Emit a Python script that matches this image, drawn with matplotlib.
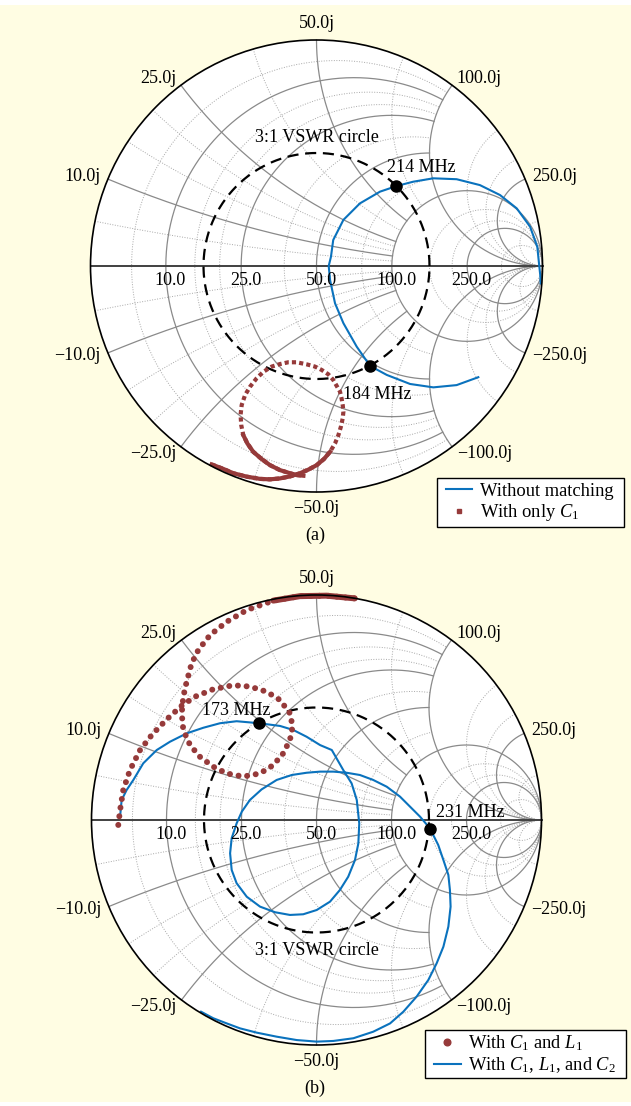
import numpy as np
import matplotlib.pyplot as plt
from matplotlib.lines import Line2D
from matplotlib.patches import Circle, Rectangle

plt.rcParams['font.family'] = ['Liberation Serif', 'DejaVu Serif']
plt.rcParams['mathtext.fontset'] = 'custom'
plt.rcParams['mathtext.rm'] = 'Liberation Serif'
plt.rcParams['mathtext.it'] = 'Liberation Serif:italic'
plt.rcParams['font.size'] = 13

# Smith grid values, normalised to Z0 (labels are in ohms)
Z0 = 50.0
major_vals = [0.2, 0.5, 1.0, 2.0, 5.0]
minor_vals = [0.1, 0.3, 0.4, 0.75, 1.5, 3.0, 4.0, 10.0]
vswr = 3.0

# (a) reflection coefficients
nomatch_re = [0.716, 0.620, 0.517, 0.414, 0.311, 0.237, 0.178, 0.119, 0.082, 0.060,
              0.054, 0.064, 0.074, 0.119, 0.192, 0.281, 0.355, 0.428, 0.517, 0.620,
              0.723, 0.812, 0.886, 0.945, 0.977, 0.986, 0.990, 0.992]
nomatch_im = [-0.492, -0.527, -0.537, -0.522, -0.482, -0.442, -0.357, -0.253, -0.165, -0.062,
              0.000, 0.041, 0.115, 0.204, 0.277, 0.329, 0.354, 0.373, 0.388, 0.384,
              0.358, 0.314, 0.255, 0.174, 0.085, -0.003, -0.040, -0.077]

onlyc1_re = [-0.464, -0.412, -0.368, -0.309, -0.250, -0.206, -0.162, -0.117, -0.073, -0.036,
             0.001, 0.033, 0.060, 0.082, 0.097, 0.108, 0.116, 0.119, 0.116, 0.111,
             0.104, 0.089, 0.074, 0.052, 0.023, -0.007, -0.044, -0.088, -0.125, -0.162,
             -0.198, -0.235, -0.265, -0.294, -0.316, -0.331, -0.336, -0.333, -0.324, -0.306,
             -0.280, -0.243, -0.206, -0.162, -0.117, -0.088, -0.058]
onlyc1_im = [-0.878, -0.898, -0.917, -0.932, -0.942, -0.944, -0.940, -0.931, -0.917, -0.901,
             -0.881, -0.854, -0.822, -0.785, -0.748, -0.711, -0.674, -0.645, -0.615, -0.586,
             -0.556, -0.530, -0.504, -0.479, -0.460, -0.445, -0.435, -0.426, -0.426, -0.434,
             -0.445, -0.468, -0.497, -0.534, -0.571, -0.615, -0.659, -0.704, -0.748, -0.785,
             -0.822, -0.854, -0.881, -0.903, -0.917, -0.925, -0.928]

a_marker_text = ['214 MHz', '184 MHz']
a_marker_re = [0.352, 0.237]
a_marker_im = [0.354, -0.442]

# (b)
c1l1_re = [-0.881, -0.873, -0.859, -0.829, -0.784, -0.732, -0.666, -0.599, -0.540, -0.459,
           -0.370, -0.296, -0.221, -0.162, -0.118, -0.106, -0.118, -0.148, -0.192, -0.251,
           -0.325, -0.399, -0.459, -0.518, -0.562, -0.592, -0.599, -0.592, -0.577, -0.555,
           -0.525, -0.473, -0.399, -0.310, -0.192, -0.073, 0.045, 0.170]
c1l1_im = [-0.022, 0.044, 0.133, 0.222, 0.311, 0.378, 0.447, 0.508, 0.548, 0.581,
           0.599, 0.593, 0.570, 0.533, 0.474, 0.415, 0.356, 0.296, 0.244, 0.207,
           0.193, 0.207, 0.237, 0.281, 0.333, 0.400, 0.474, 0.548, 0.615, 0.696,
           0.756, 0.822, 0.881, 0.933, 0.975, 0.995, 0.997, 0.985]

c1l1c2_re = [-0.873, -0.866, -0.844, -0.814, -0.770, -0.710, -0.651, -0.577, -0.503, -0.429,
             -0.355, -0.254, -0.162, -0.103, -0.044, 0.016, 0.068, 0.119, 0.156, 0.179,
             0.190, 0.186, 0.171, 0.141, 0.104, 0.060, 0.001, -0.059, -0.118, -0.184,
             -0.251, -0.310, -0.355, -0.377, -0.384, -0.377, -0.355, -0.332, -0.296, -0.244,
             -0.177, -0.110, -0.044, 0.016, 0.075, 0.134, 0.193, 0.252, 0.312, 0.371,
             0.416, 0.460, 0.504, 0.541, 0.564, 0.586, 0.593, 0.596, 0.586, 0.564,
             0.534, 0.497, 0.445, 0.386, 0.327, 0.252, 0.164, 0.075, 0.001, -0.088,
             -0.177, -0.266, -0.340, -0.399, -0.459, -0.513]
c1l1c2_im = [0.015, 0.089, 0.133, 0.178, 0.252, 0.311, 0.348, 0.385, 0.410, 0.430,
             0.439, 0.430, 0.418, 0.400, 0.370, 0.333, 0.311, 0.222, 0.163, 0.089,
             -0.015, -0.104, -0.178, -0.252, -0.311, -0.363, -0.400, -0.419, -0.422, -0.410,
             -0.385, -0.341, -0.281, -0.222, -0.148, -0.081, -0.015, 0.037, 0.089, 0.136,
             0.178, 0.200, 0.210, 0.215, 0.215, 0.210, 0.200, 0.178, 0.148, 0.104,
             0.059, 0.015, -0.037, -0.111, -0.178, -0.244, -0.311, -0.385, -0.474, -0.563,
             -0.637, -0.711, -0.785, -0.852, -0.904, -0.941, -0.970, -0.982, -0.985, -0.978,
             -0.963, -0.945, -0.926, -0.904, -0.881, -0.852]

b_marker_text = ['173 MHz', '231 MHz']
b_marker_re = [-0.254, 0.503]
b_marker_im = [0.430, -0.040]

BG = '#fffde3'
BLUE = '#0a72bd'
RED = '#963a3a'

W, H = 631, 1106
fig = plt.figure(figsize=(W / 100, H / 100), dpi=100, facecolor='white')
fig.patches.append(Rectangle((0, 4 / H), 1, 1 - 9 / H, transform=fig.transFigure,
                             fc=BG, ec='none', zorder=-10))


def px(x, y):
    # pixel position (from top left) -> figure fraction
    return x / W, 1 - y / H


def gam(z):
    return (z - 1) / (z + 1)


def chart_axes(cx, cy, R):
    half = 1.15 * R
    ax = fig.add_axes([(cx - half) / W, (H - cy - half) / H, 2 * half / W, 2 * half / H])
    ax.set_xlim(-1.15, 1.15)
    ax.set_ylim(-1.15, 1.15)
    ax.set_aspect('equal')
    ax.axis('off')
    return ax


def smith_grid(ax):
    ax.add_patch(Circle((0, 0), 1, fc='white', ec='none', zorder=0))
    minor_style = dict(color='#a8a8a8', lw=0.7, ls=(0, (1, 1.6)))
    major_style = dict(color='#8a8a8a', lw=0.9, ls='-')
    for vals, style in ((minor_vals, minor_style), (major_vals, major_style)):
        for v in vals:
            # lines below 2 stop at the r=2 / x=2 lines, the rest run to the edge
            lim = np.pi / 2 if v >= 2 else np.arctan(2.0)
            t = np.linspace(-lim, lim, 600)
            g = gam(v + 1j * np.tan(t))
            ax.plot(g.real, g.imag, zorder=1, **style)
            t = np.linspace(0, lim, 600)
            for s in (1, -1):
                g = gam(np.tan(t) + 1j * s * v)
                ax.plot(g.real, g.imag, zorder=1, **style)
    ax.plot([-1, 1], [0, 0], color='#404040', lw=1.4, zorder=2)
    ax.add_patch(Circle((0, 0), 1, fc='none', ec='black', lw=1.2, zorder=6))

    for v in major_vals:
        xr = gam(v).real
        ax.text(xr + 0.02, -0.063, f'{v * Z0:.1f}', ha='center', va='center', zorder=7)
        for s in (1, -1):
            g = gam(1j * s * v)
            c, si = g.real, g.imag
            ha = 'left' if c > 0.3 else ('right' if c < -0.3 else 'center')
            va = 'bottom' if si > 0.9 else ('top' if si < -0.9 else 'center')
            lab = f'{v * Z0:.1f}j' if s > 0 else f'\u2212{v * Z0:.1f}j'
            ax.text(1.035 * c, 1.035 * si, lab, ha=ha, va=va)

    rho = (vswr - 1) / (vswr + 1)
    th = np.linspace(0, 2 * np.pi, 400)
    ax.plot(rho * np.cos(th), rho * np.sin(th), color='black', lw=1.6,
            ls=(0, (5, 3)), zorder=3)
    return rho


def boxed_legend(handles, labels, box, anchor):
    x0, y0, x1, y1 = box
    fig.patches.append(Rectangle(px(x0, y1), (x1 - x0) / W, (y1 - y0) / H,
                                 transform=fig.transFigure, fc='white', ec='black',
                                 lw=1.0, zorder=20))
    leg = fig.legend(handles, labels, loc='upper left', bbox_to_anchor=px(*anchor),
                     borderaxespad=0, borderpad=0, frameon=False, fontsize=13.3,
                     handlelength=1.45, handletextpad=0.38, labelspacing=0.13)
    leg.set_zorder(21)
    return leg


# ---- (a) ----
ax1 = chart_axes(316.5, 266, 226)
rho = smith_grid(ax1)
ax1.text(0, rho + 0.07, f'{vswr:.0f}:1 VSWR circle', ha='center', va='center', zorder=7)

ax1.plot(onlyc1_re, onlyc1_im, color=RED, lw=3, ls=(0, (1, 0.75)), zorder=4)
ax1.plot(onlyc1_re[:13], onlyc1_im[:13], color=RED, lw=3, zorder=4)
ax1.plot(onlyc1_re[38:], onlyc1_im[38:], color=RED, lw=3, zorder=4)
ax1.plot(nomatch_re, nomatch_im, color=BLUE, lw=1.5, zorder=5)
ax1.plot(a_marker_re, a_marker_im, 'o', color='black', ms=8, zorder=8)
a_off = [((-6.5, 10.1), 'left'), ((-19.4, -23.8), 'left')]
for txt, x, y, (off, ha) in zip(a_marker_text, a_marker_re, a_marker_im, a_off):
    ax1.annotate(txt, (x, y), xytext=off, textcoords='offset points',
                 ha=ha, va='baseline', zorder=9)

fig.text(*px(315, 535), '(a)', ha='center', va='center')

boxed_legend([Line2D([], [], color=BLUE, lw=1.5),
              Line2D([], [], ls='none', marker='s', ms=3, color=RED)],
             ['Without matching', r'With only $C_1$'],
             (436.7, 478.3, 624.3, 527.3), (445.7, 482.8))

# ---- (b) ----
ax2 = chart_axes(316.5, 820, 225)
rho = smith_grid(ax2)
ax2.text(0, -rho - 0.078, f'{vswr:.0f}:1 VSWR circle', ha='center', va='center', zorder=7)

ax2.plot(c1l1c2_re, c1l1c2_im, color=BLUE, lw=1.5, zorder=4)
ax2.plot(c1l1_re, c1l1_im, color=RED, lw=4.3, ls=(0, (0.01, 1.45)),
         dash_capstyle='round', zorder=5)
ax2.plot(c1l1_re[34:], c1l1_im[34:], color=RED, lw=4.3, solid_capstyle='round', zorder=5)
ax2.plot(b_marker_re, b_marker_im, 'o', color='black', ms=8, zorder=8)
b_off = [((7.7, 6.0), 'right'), ((4.7, 8.6), 'left')]
for txt, x, y, (off, ha) in zip(b_marker_text, b_marker_re, b_marker_im, b_off):
    ax2.annotate(txt, (x, y), xytext=off, textcoords='offset points',
                 ha=ha, va='baseline', zorder=9)

fig.text(*px(315, 1088), '(b)', ha='center', va='center')

boxed_legend([Line2D([], [], ls='none', marker='o', ms=4.8, color=RED),
              Line2D([], [], color=BLUE, lw=1.5)],
             [r'With $C_1$ and $L_1$', r'With $C_1$, $L_1$, and $C_2$'],
             (425, 1030, 626, 1078.3), (434, 1033.4))

fig.savefig('out.png', dpi=100, facecolor='white')
